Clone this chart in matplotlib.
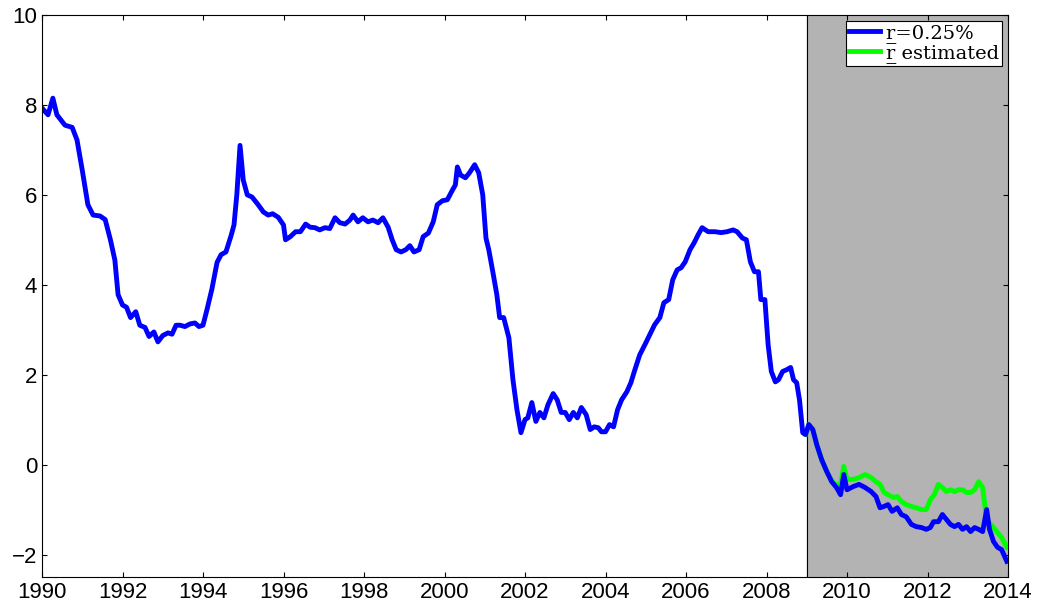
import matplotlib
matplotlib.use('Agg')
import matplotlib.pyplot as plt

plt.rcParams['font.family'] = ['Liberation Sans', 'DejaVu Sans']

# blue series: r = 0.25%
t_blue = [1990.0, 1990.15, 1990.27, 1990.37, 1990.57, 1990.75, 1990.87, 1991.0, 1991.14, 1991.27,
          1991.44, 1991.57, 1991.7, 1991.81, 1991.89, 1992.0, 1992.1, 1992.2, 1992.33, 1992.43,
          1992.56, 1992.66, 1992.78, 1992.88, 1993.0, 1993.13, 1993.23, 1993.33, 1993.43, 1993.55,
          1993.68, 1993.8, 1993.9, 1994.0, 1994.1, 1994.22, 1994.35, 1994.45, 1994.57, 1994.7,
          1994.77, 1994.84, 1994.92, 1995.0, 1995.1, 1995.22, 1995.37, 1995.5, 1995.62, 1995.73,
          1995.87, 1996.0, 1996.05, 1996.17, 1996.3, 1996.42, 1996.55, 1996.66, 1996.78, 1996.9,
          1997.03, 1997.15, 1997.28, 1997.4, 1997.53, 1997.65, 1997.73, 1997.85, 1997.97, 1998.1,
          1998.22, 1998.35, 1998.47, 1998.6, 1998.7, 1998.8, 1998.92, 1999.04, 1999.14, 1999.24,
          1999.37, 1999.47, 1999.6, 1999.72, 1999.82, 1999.95, 2000.07, 2000.2, 2000.27, 2000.32,
          2000.4, 2000.52, 2000.62, 2000.75, 2000.85, 2000.95, 2001.03, 2001.1, 2001.2, 2001.3,
          2001.37, 2001.47, 2001.6, 2001.7, 2001.8, 2001.9, 2002.0, 2002.07, 2002.17, 2002.27,
          2002.37, 2002.47, 2002.57, 2002.7, 2002.8, 2002.9, 2003.0, 2003.1, 2003.2, 2003.3,
          2003.4, 2003.52, 2003.62, 2003.72, 2003.82, 2003.9, 2004.0, 2004.1, 2004.2, 2004.3,
          2004.4, 2004.53, 2004.63, 2004.73, 2004.85, 2004.98, 2005.1, 2005.22, 2005.35, 2005.45,
          2005.57, 2005.67, 2005.78, 2005.88, 2005.98, 2006.1, 2006.2, 2006.3, 2006.4, 2006.55,
          2006.72, 2006.87, 2007.02, 2007.17, 2007.27, 2007.4, 2007.5, 2007.6, 2007.7, 2007.8,
          2007.86, 2007.96, 2008.04, 2008.12, 2008.22, 2008.3, 2008.4, 2008.5, 2008.6, 2008.67,
          2008.75, 2008.82, 2008.9, 2008.97, 2009.05, 2009.15, 2009.25, 2009.37, 2009.5, 2009.62,
          2009.74, 2009.84, 2009.92, 2010.0, 2010.15, 2010.3, 2010.45, 2010.6, 2010.72, 2010.82,
          2010.92, 2011.02, 2011.12, 2011.25, 2011.35, 2011.47, 2011.6, 2011.72, 2011.85, 2011.97,
          2012.07, 2012.15, 2012.27, 2012.37, 2012.47, 2012.57, 2012.67, 2012.77, 2012.87, 2012.97,
          2013.07, 2013.17, 2013.27, 2013.37, 2013.47, 2013.54, 2013.64, 2013.74, 2013.84, 2013.97]
v_blue = [7.93, 7.78, 8.15, 7.78, 7.55, 7.5, 7.22, 6.55, 5.78, 5.55,
          5.53, 5.45, 5.0, 4.55, 3.78, 3.55, 3.5, 3.27, 3.4, 3.1,
          3.05, 2.85, 2.95, 2.73, 2.87, 2.93, 2.9, 3.1, 3.1, 3.07,
          3.13, 3.15, 3.07, 3.1, 3.45, 3.9, 4.5, 4.67, 4.73, 5.1,
          5.33, 6.0, 7.1, 6.33, 6.0, 5.95, 5.78, 5.62, 5.55, 5.58,
          5.5, 5.33, 5.0, 5.07, 5.18, 5.18, 5.35, 5.28, 5.27, 5.22,
          5.27, 5.25, 5.49, 5.38, 5.35, 5.44, 5.55, 5.4, 5.49, 5.4,
          5.44, 5.38, 5.49, 5.28, 5.0, 4.78, 4.73, 4.78, 4.87, 4.73,
          4.78, 5.07, 5.15, 5.4, 5.78, 5.87, 5.89, 6.11, 6.22, 6.62,
          6.44, 6.38, 6.49, 6.67, 6.49, 6.0, 5.04, 4.78, 4.29, 3.78,
          3.27, 3.27, 2.82, 1.89, 1.22, 0.71, 1.0, 1.04, 1.38, 0.96,
          1.16, 1.04, 1.33, 1.58, 1.44, 1.16, 1.16, 1.0, 1.16, 1.04,
          1.27, 1.11, 0.78, 0.84, 0.82, 0.73, 0.73, 0.89, 0.84, 1.22,
          1.44, 1.62, 1.82, 2.11, 2.44, 2.67, 2.89, 3.11, 3.27, 3.6,
          3.67, 4.11, 4.33, 4.38, 4.51, 4.78, 4.93, 5.11, 5.27, 5.18,
          5.18, 5.16, 5.18, 5.22, 5.18, 5.04, 5.0, 4.51, 4.29, 4.29,
          3.67, 3.67, 2.67, 2.07, 1.84, 1.89, 2.07, 2.11, 2.16, 1.89,
          1.82, 1.44, 0.71, 0.67, 0.89, 0.78, 0.44, 0.11, -0.16, -0.38,
          -0.51, -0.67, -0.22, -0.56, -0.49, -0.44, -0.51, -0.6, -0.71, -0.96,
          -0.93, -0.89, -1.04, -0.96, -1.11, -1.16, -1.33, -1.38, -1.4, -1.44,
          -1.4, -1.27, -1.27, -1.11, -1.22, -1.33, -1.38, -1.33, -1.44, -1.38,
          -1.49, -1.4, -1.44, -1.49, -1.0, -1.44, -1.71, -1.84, -1.89, -2.15]

# green series: r estimated (from 2009)
t_green = [2008.97, 2009.05, 2009.15, 2009.25, 2009.37, 2009.5, 2009.62, 2009.74, 2009.84, 2009.92,
           2010.0, 2010.15, 2010.3, 2010.45, 2010.6, 2010.72, 2010.82, 2010.92, 2011.02, 2011.15,
           2011.25, 2011.35, 2011.47, 2011.6, 2011.72, 2011.85, 2011.97, 2012.07, 2012.17, 2012.27,
           2012.37, 2012.47, 2012.57, 2012.67, 2012.77, 2012.87, 2012.97, 2013.07, 2013.17, 2013.27,
           2013.37, 2013.47, 2013.57, 2013.72, 2013.84, 2013.97]
v_green = [0.67, 0.89, 0.78, 0.44, 0.11, -0.16, -0.36, -0.46, -0.44, -0.04,
           -0.33, -0.33, -0.29, -0.22, -0.29, -0.38, -0.44, -0.62, -0.67, -0.73,
           -0.71, -0.82, -0.89, -0.93, -0.96, -1.0, -1.0, -0.78, -0.67, -0.44,
           -0.51, -0.6, -0.56, -0.6, -0.56, -0.56, -0.62, -0.62, -0.56, -0.38,
           -0.51, -1.22, -1.33, -1.49, -1.62, -1.84]

fig = plt.figure(figsize=(10.42, 6.12), dpi=100)
ax = fig.add_axes([42 / 1042, 1 - 577 / 612, 966 / 1042, 562 / 612])
ax.axvspan(2009, 2014, color='#b3b3b3', zorder=0)
ax.axvline(2009, color='black', lw=0.8)
ax.plot(t_green, v_green, color='#00ff00', lw=3.5, label='r\u0332 estimated')
ax.plot(t_blue, v_blue, color='#0000ff', lw=3.5, label='r\u0332=0.25%')
h, l = ax.get_legend_handles_labels()
leg = ax.legend(h[::-1], l[::-1], loc='upper right', prop={'family': 'DejaVu Serif', 'size': 14},
                fancybox=False, edgecolor='black', borderpad=0.15, handlelength=1.6,
                labelspacing=0.05, borderaxespad=0.3, handletextpad=0.3, framealpha=1)
leg.get_frame().set_linewidth(0.8)
ax.set_xlim(1990, 2014)
ax.set_ylim(-2.5, 10)
ax.set_xticks(range(1990, 2015, 2))
ax.set_yticks([-2, 0, 2, 4, 6, 8, 10])
ax.tick_params(direction='in', labelsize=16, top=True, right=True)
plt.savefig('out.png', dpi=100)
